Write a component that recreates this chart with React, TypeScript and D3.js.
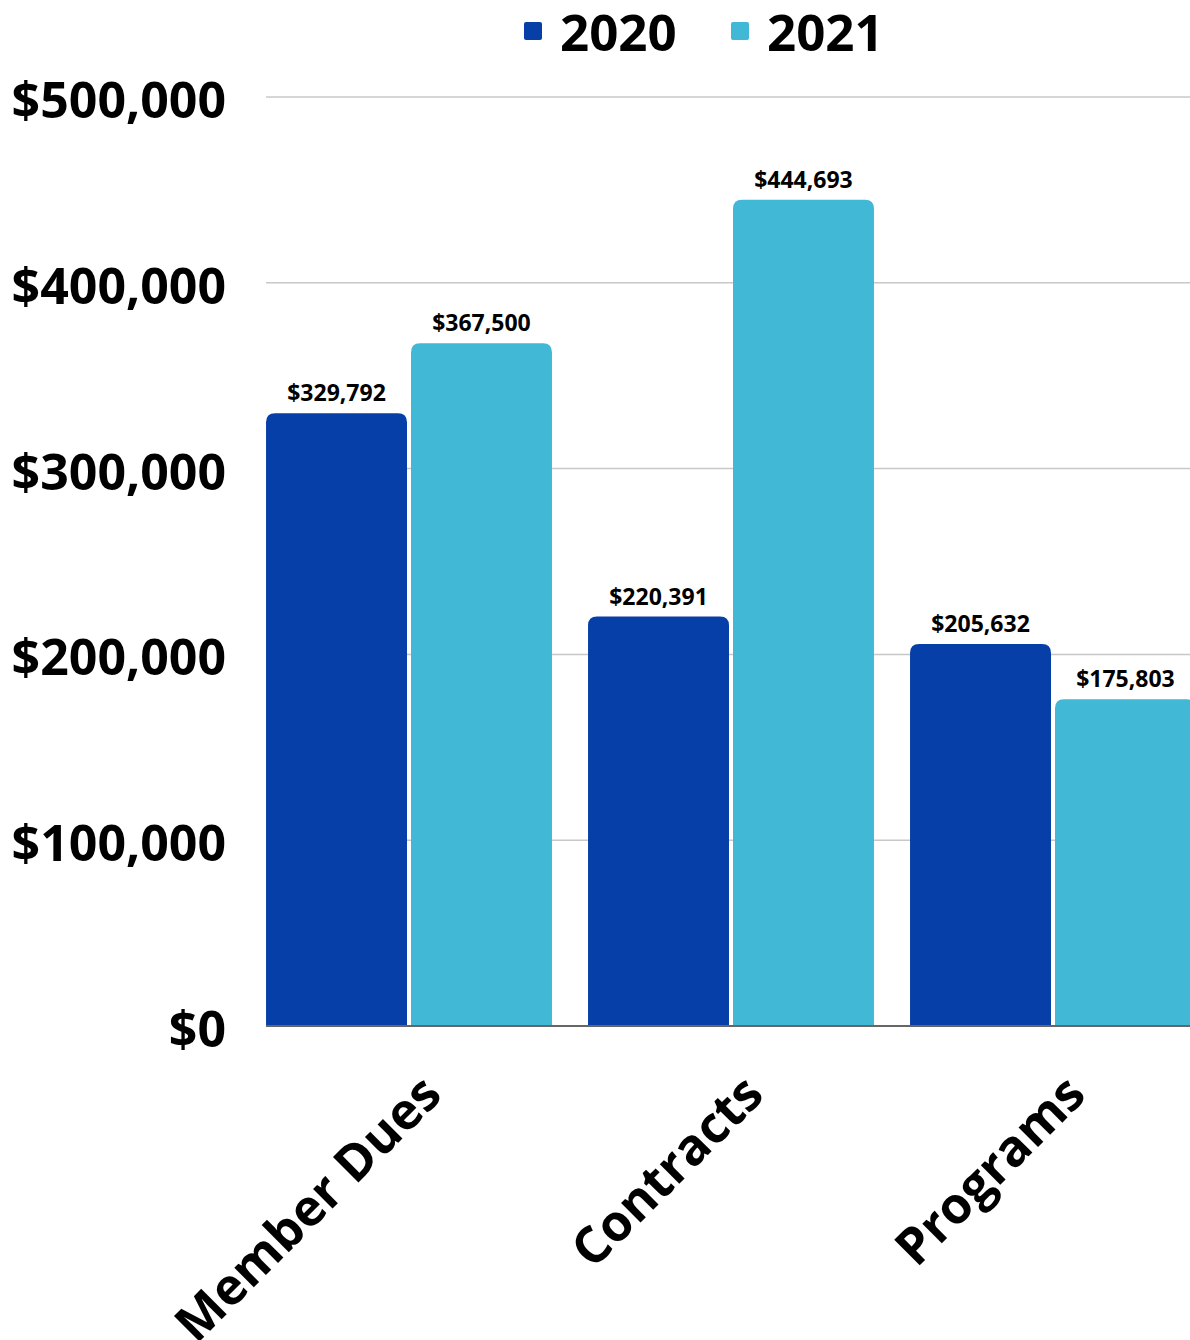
import React from "react";
import * as d3 from "d3";

const categories = ["Member Dues", "Contracts", "Programs"];
const seriesNames = ["2020", "2021"];
const values2020 = [329792, 220391, 205632];
const values2021 = [367500, 444693, 175803];
const yTicks = [0, 100000, 200000, 300000, 400000, 500000];
const colors = ["#063fa7", "#41b8d5"];

const W = 1190;
const H = 1340;
const FONT = "'Open Sans', sans-serif";

function topRoundedRect(x: number, y: number, w: number, h: number, r: number) {
  const rr = Math.min(r, w / 2, h);
  return `M${x},${y + h}V${y + rr}Q${x},${y} ${x + rr},${y}H${x + w - rr}Q${x + w},${y} ${x + w},${y + rr}V${y + h}Z`;
}

export default function App() {
  const plotLeft = 266;
  const plotRight = 1190;
  const y = d3.scaleLinear().domain([0, 500000]).range([1026, 97]);
  const x0 = d3
    .scaleBand<string>()
    .domain(categories)
    .range([248, 1214])
    .paddingInner(0.112)
    .paddingOuter(0.056);
  const x1 = d3
    .scaleBand<string>()
    .domain(seriesNames)
    .range([0, x0.bandwidth()])
    .paddingInner(0.0276)
    .paddingOuter(0);
  const series = [values2020, values2021];
  const fmt = (v: number) => "$" + d3.format(",")(v);

  return (
    <svg
      width={W}
      height={H}
      style={{ position: "absolute", left: 0, top: 0, background: "#fff" }}
      fontFamily={FONT}
    >
      {yTicks.slice(1).map((t) => (
        <line key={t} x1={plotLeft} x2={plotRight} y1={y(t)} y2={y(t)} stroke="#c8c8c8" strokeWidth={1.5} />
      ))}
      {yTicks.map((t) => (
        <text
          key={t}
          x={226}
          y={y(t)}
          dy="0.42em"
          textAnchor="end"
          fontSize={50}
          fontWeight={700}
          fill="#000"
        >
          {fmt(t)}
        </text>
      ))}
      {categories.map((c, ci) => (
        <g key={c} transform={`translate(${x0(c)},0)`}>
          {seriesNames.map((s, si) => {
            const v = series[si][ci];
            const bx = x1(s)!;
            const by = y(v);
            const bw = x1.bandwidth();
            return (
              <g key={s}>
                <path d={topRoundedRect(bx, by, bw, y(0) - by, 9)} fill={colors[si]} />
                <text
                  x={bx + bw / 2}
                  y={by - 12}
                  textAnchor="middle"
                  fontSize={23}
                  fontWeight={700}
                  fill="#000"
                >
                  {fmt(v)}
                </text>
              </g>
            );
          })}
        </g>
      ))}
      <line x1={plotLeft} x2={plotRight} y1={y(0)} y2={y(0)} stroke="#666" strokeWidth={2} />
      {categories.map((c) => {
        const cx = x0(c)! + x0.bandwidth() / 2;
        const ax = cx + 35;
        const ay = 1097;
        return (
          <text
            key={c}
            transform={`translate(${ax},${ay}) rotate(-45)`}
            textAnchor="end"
            fontSize={50.5}
            fontWeight={700}
            fill="#000"
          >
            {c}
          </text>
        );
      })}
      {seriesNames.map((s, i) => {
        const lx = [524, 731][i];
        return (
          <g key={s}>
            <rect x={lx} y={22} width={18} height={18} rx={2} fill={colors[i]} />
            <text x={lx + 36} y={33} dy="0.36em" fontSize={51} fontWeight={700} fill="#000">
              {s}
            </text>
          </g>
        );
      })}
    </svg>
  );
}
